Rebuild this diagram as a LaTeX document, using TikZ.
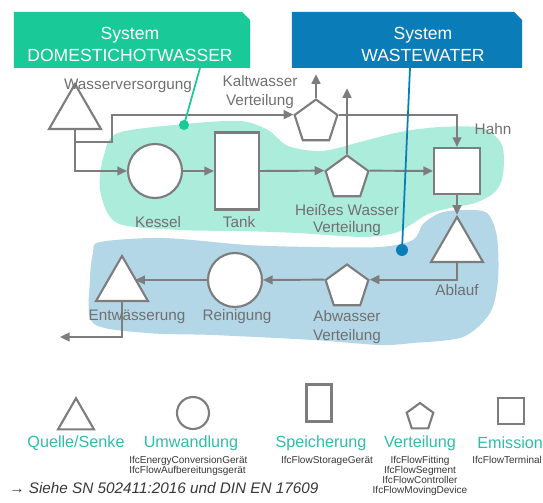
\documentclass[tikz,border=0pt]{standalone}
\usepackage{fontspec}
\setmainfont{Liberation Sans}
\usetikzlibrary{arrows.meta,shapes.geometric}
\definecolor{linegray}{RGB}{125,125,125}
\definecolor{labelgray}{RGB}{112,112,112}
\definecolor{ifcgray}{RGB}{55,55,55}
\definecolor{dhwgreen}{RGB}{26,201,152}
\definecolor{wwblue}{RGB}{10,124,184}
\definecolor{dhwzone}{RGB}{172,236,218}
\definecolor{wwzone}{RGB}{180,215,231}
\definecolor{legendteal}{RGB}{47,189,170}

\begin{document}
\begin{tikzpicture}[x=0.2mm,y=-0.2mm,
    elem/.style={draw=linegray,line width=1.2pt,fill=white,inner sep=0pt},
    srcsink/.style={elem,regular polygon,regular polygon sides=3,minimum size=12mm},
    conv/.style={elem,circle,minimum size=10.8mm},
    dist/.style={elem,regular polygon,regular polygon sides=5,minimum size=9mm},
    flow/.style={draw=linegray,line width=1.1pt,-{Triangle[length=5.5pt,width=5pt]}},
    lbl/.style={text=labelgray,font=\fontsize{8.7}{10.4}\selectfont,align=center,inner sep=0pt},
    legtitle/.style={text=legendteal,font=\fontsize{9.2}{11}\selectfont,inner sep=0pt},
    ifc/.style={text=ifcgray,font=\fontsize{5.7}{5.6}\selectfont,inner sep=0pt},
    sysbox/.style={rectangle,minimum height=11.2mm,inner sep=0pt,outer sep=0pt},
    systitle/.style={text=white,font=\fontsize{10}{12.5}\selectfont,align=center,inner sep=0pt}]
  \clip (0,0) rectangle (543,503);

  % system zones
  \fill[dhwzone] plot[smooth cycle] coordinates {(118,133) (185,124) (240,121) (268,130) (288,146)
    (322,151) (360,142) (400,132) (440,127) (482,128) (502,145) (503,175) (495,192) (475,203)
    (450,208) (428,214) (412,224) (395,233) (363,237) (297,233) (240,231) (180,230) (117,223)
    (100,190) (104,155)};
  \fill[wwzone] plot[smooth cycle] coordinates {(93,253) (100,242) (163,238) (247,245) (313,247)
    (380,247) (413,240) (423,224) (440,213) (463,210) (487,213) (497,237) (498,280) (490,313)
    (463,337) (413,343) (380,345) (313,340) (213,335) (147,333) (93,323) (90,280)};

  % system headers
  \node[sysbox,minimum width=47.2mm] (dhwbox) at (132,40) {};
  \fill[dhwgreen] (dhwbox.south west) -- (dhwbox.north west) -- ([xshift=-1.6mm]dhwbox.north east)
    -- ([yshift=-1.6mm]dhwbox.north east) -- (dhwbox.south east) -- cycle;
  \node[systitle] (dhwtitle) at (130,44) {System\\DOMESTICHOTWASSER};
  \node[sysbox,minimum width=46mm] (wwbox) at (407,40) {};
  \fill[wwblue] (wwbox.south west) -- (wwbox.north west) -- ([xshift=-1.6mm]wwbox.north east)
    -- ([yshift=-1.6mm]wwbox.north east) -- (wwbox.south east) -- cycle;
  \node[systitle] (wwtitle) at (423,44) {System\\WASTEWATER};

  % elements
  \node[srcsink] (wv) at (75,114) {};
  \node[conv] (kessel) at (155,171) {};
  \node[elem,rectangle,minimum width=8.8mm,minimum height=15.4mm] (tank) at (237,171) {};
  \node[dist] (kwvert) at (316,122) {};
  \node[dist] (hwvert) at (347,178) {};
  \node[elem,rectangle,minimum size=9.2mm] (hahn) at (457,171) {};
  \node[srcsink] (ablauf) at (457,247) {};
  \node[dist] (awvert) at (347,287) {};
  \node[conv] (rein) at (235,280) {};
  \node[srcsink] (entw) at (122,286) {};

  % connectors
  \coordinate (split) at (75,142);
  \coordinate (drain) at (60,337);
  \draw[flow] (wv.south) |- (kessel.west);
  \draw[flow] (split) -- ++(37,0) |- (kwvert.corner 2);
  \draw[flow] (kwvert.corner 1) -- ++(0,-24);
  \draw[flow] (kwvert.corner 5) -| (hahn.north);
  \draw[flow] (kessel.east) -- (tank.west);
  \draw[flow] (tank.east) -- (hwvert.corner 2);
  \draw[flow] (hwvert.corner 1) -- ++(0,-66);
  \draw[flow] (hwvert.corner 5) -- (hahn.west);
  \draw[flow] (hahn.south) -- (ablauf.corner 1);
  \draw[flow] (ablauf.south) |- (awvert.corner 5);
  \draw[flow] (awvert.corner 2) -- (rein.east);
  \draw[flow,shorten >=-3pt] (rein.west) -- (rein.west -| entw.east);
  \draw[flow] (entw.south) |- (drain);

  % labels
  \node[lbl] (wvlbl) at (128,86) {Wasserversorgung};
  \node[lbl,font=\fontsize{8.7}{11.3}\selectfont] (kwlbl) at (260,92) {Kaltwasser\\Verteilung};
  \node[lbl] (hahnlbl) at (493,129) {Hahn};
  \node[lbl] (kessellbl) at (158,222) {Kessel};
  \node[lbl] (tanklbl) at (239,222) {Tank};
  \node[lbl,font=\fontsize{8.7}{9.5}\selectfont] (hwlbl) at (347,220) {Heißes Wasser\\Verteilung};
  \node[lbl] (ablauflbl) at (457,290) {Ablauf};
  \node[lbl] (awlbl) at (347,327) {Abwasser\\Verteilung};
  \node[lbl] (reinlbl) at (237,317) {Reinigung};
  \node[lbl] (entwlbl) at (137,317) {Entwässerung};

  % system pointers
  \coordinate (dhwpin) at (184,125);
  \coordinate (wwpin) at (402,250);
  \draw[dhwgreen,line width=1pt] ([xshift=13.6mm]dhwbox.south) -- (dhwpin);
  \fill[dhwgreen] (dhwpin) circle (5);
  \draw[wwblue,line width=1pt] ([xshift=0.6mm]wwbox.south) -- (wwpin);
  \fill[wwblue] (wwpin) circle (6);

  % legend
  \node[elem,regular polygon,regular polygon sides=3,minimum size=8.3mm] (lgsrc) at (76,419) {};
  \node[elem,circle,minimum size=6.4mm] (lgconv) at (193,413) {};
  \node[elem,rectangle,minimum width=5mm,minimum height=7.4mm] (lgstore) at (319,403) {};
  \node[elem,regular polygon,regular polygon sides=5,minimum size=5.6mm] (lgdist) at (420,417) {};
  \node[elem,rectangle,minimum size=5.2mm] (lgemit) at (511,411) {};

  \node[legtitle] (lgsrclbl) at (76,443) {Quelle/Senke};
  \node[legtitle] (lgconvlbl) at (191,443) {Umwandlung};
  \node[legtitle] (lgstorelbl) at (321,443) {Speicherung};
  \node[legtitle] (lgdistlbl) at (420,443) {Verteilung};
  \node[legtitle,anchor=west] (lgemitlbl) at (477,443) {Emission};

  \node[ifc,anchor=north west,align=left] (lgconvifc) at (129,456) {IfcEnergyConversionGerät\\IfcFlowAufbereitungsgerät};
  \node[ifc,anchor=north] (lgstoreifc) at (327,456) {IfcFlowStorageGerät};
  \node[ifc,anchor=north,align=center] (lgdistifc) at (420,456) {IfcFlowFitting\\IfcFlowSegment\\IfcFlowController\\IfcFlowMovingDevice};
  \node[ifc,anchor=north west] (lgemitifc) at (472,456) {IfcFlowTerminal};

  \node[anchor=west,inner sep=0pt,text=ifcgray,font=\fontsize{8.7}{10}\selectfont\itshape] (seenote) at (9,488)
    {→ Siehe SN 502411:2016 und DIN EN 17609};
\end{tikzpicture}
\end{document}
